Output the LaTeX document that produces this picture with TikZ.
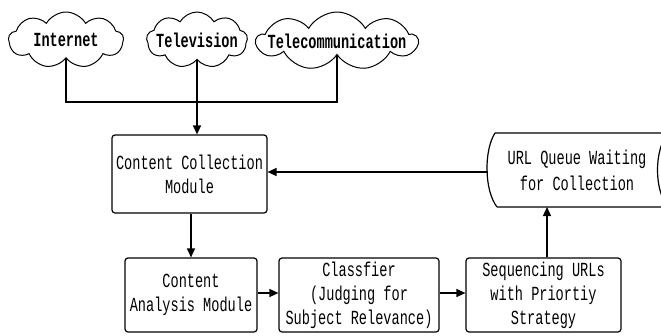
\documentclass[tikz,border=0pt]{standalone}
\usepackage{fontspec}
\setmainfont[FakeStretch=0.68]{Liberation Mono}
\usetikzlibrary{shapes.symbols,arrows.meta}
\begin{document}
\begin{tikzpicture}[x=1pt,y=-1pt,
  every node/.style={font=\fontsize{20}{24}\selectfont},
  box/.style={draw,line width=1.2pt,rounded corners=3pt,align=center,inner sep=0pt},
  cl/.style={draw,cloud,cloud puffs=9,cloud puff arc=120,cloud ignores aspect,inner sep=0pt,line width=1pt,font=\fontsize{20}{24}\selectfont\bfseries},
  conn/.style={line width=1.3pt},
  arr/.style={line width=1.3pt,-{Triangle[length=9pt,width=8pt]}}]
\useasboundingbox (0,0) rectangle (661,335);
\clip (0,0) rectangle (661,335);
% clouds
\node[cl,minimum width=115pt,minimum height=56pt] (inet) at (66,40) {\makebox[0pt]{Internet}};
\node[cl,minimum width=101pt,minimum height=56pt] (tv) at (197,40) {\makebox[0pt]{Television}};
\node[cl,minimum width=161pt,minimum height=58pt] (tel) at (337,41) {\makebox[0pt]{Telecommunication}};
% boxes
\node[box,minimum width=155pt,minimum height=78pt] (ccm) at (189.5,174) {Content Collection\\Module};
\node[box,minimum width=132pt,minimum height=74pt] (ca) at (191,295) {Content\\Analysis Module};
\node[box,minimum width=160pt,minimum height=74pt] (cf) at (359,295) {Classfier\\(Judging for\\Subject Relevance)};
\node[box,minimum width=155pt,minimum height=74pt] (seq) at (543.5,295) {Sequencing URLs\\with Priortiy\\Strategy};
% queue (stored data)
\node[align=center,inner sep=0pt,font=\fontsize{20}{26}\selectfont] (queue) at (577,170) {URL Queue Waiting\\for Collection};
\draw[line width=1.2pt] (495,133) -- (672,133)
  (497,207) -- (672,207)
  (495,133) .. controls (484,150) and (484,190) .. (497,207)
  (668,133) .. controls (654,150) and (654,190) .. (668,207);
\coordinate (qw) at (488,172);
\coordinate (qs) at (547,207);
% connectors
\coordinate (j) at (197,102);
\draw[conn] (inet.south) -- (inet.south |- j) -- (tel.south |- j) -- (tel.south);
\draw[conn] (tv.south) -- (tv.south |- j);
\draw[arr] (j) -- (j |- ccm.north);
\draw[arr] (qw) -- (ccm.east |- qw);
\draw[arr] (ccm.south -| ca) -- (ca.north);
\draw[arr] (ca.east |- 0,293) -- (cf.west |- 0,293);
\draw[arr] (cf.east |- 0,293) -- (seq.west |- 0,293);
\draw[arr] (qs |- seq.north) -- (qs);
\end{tikzpicture}
\end{document}
